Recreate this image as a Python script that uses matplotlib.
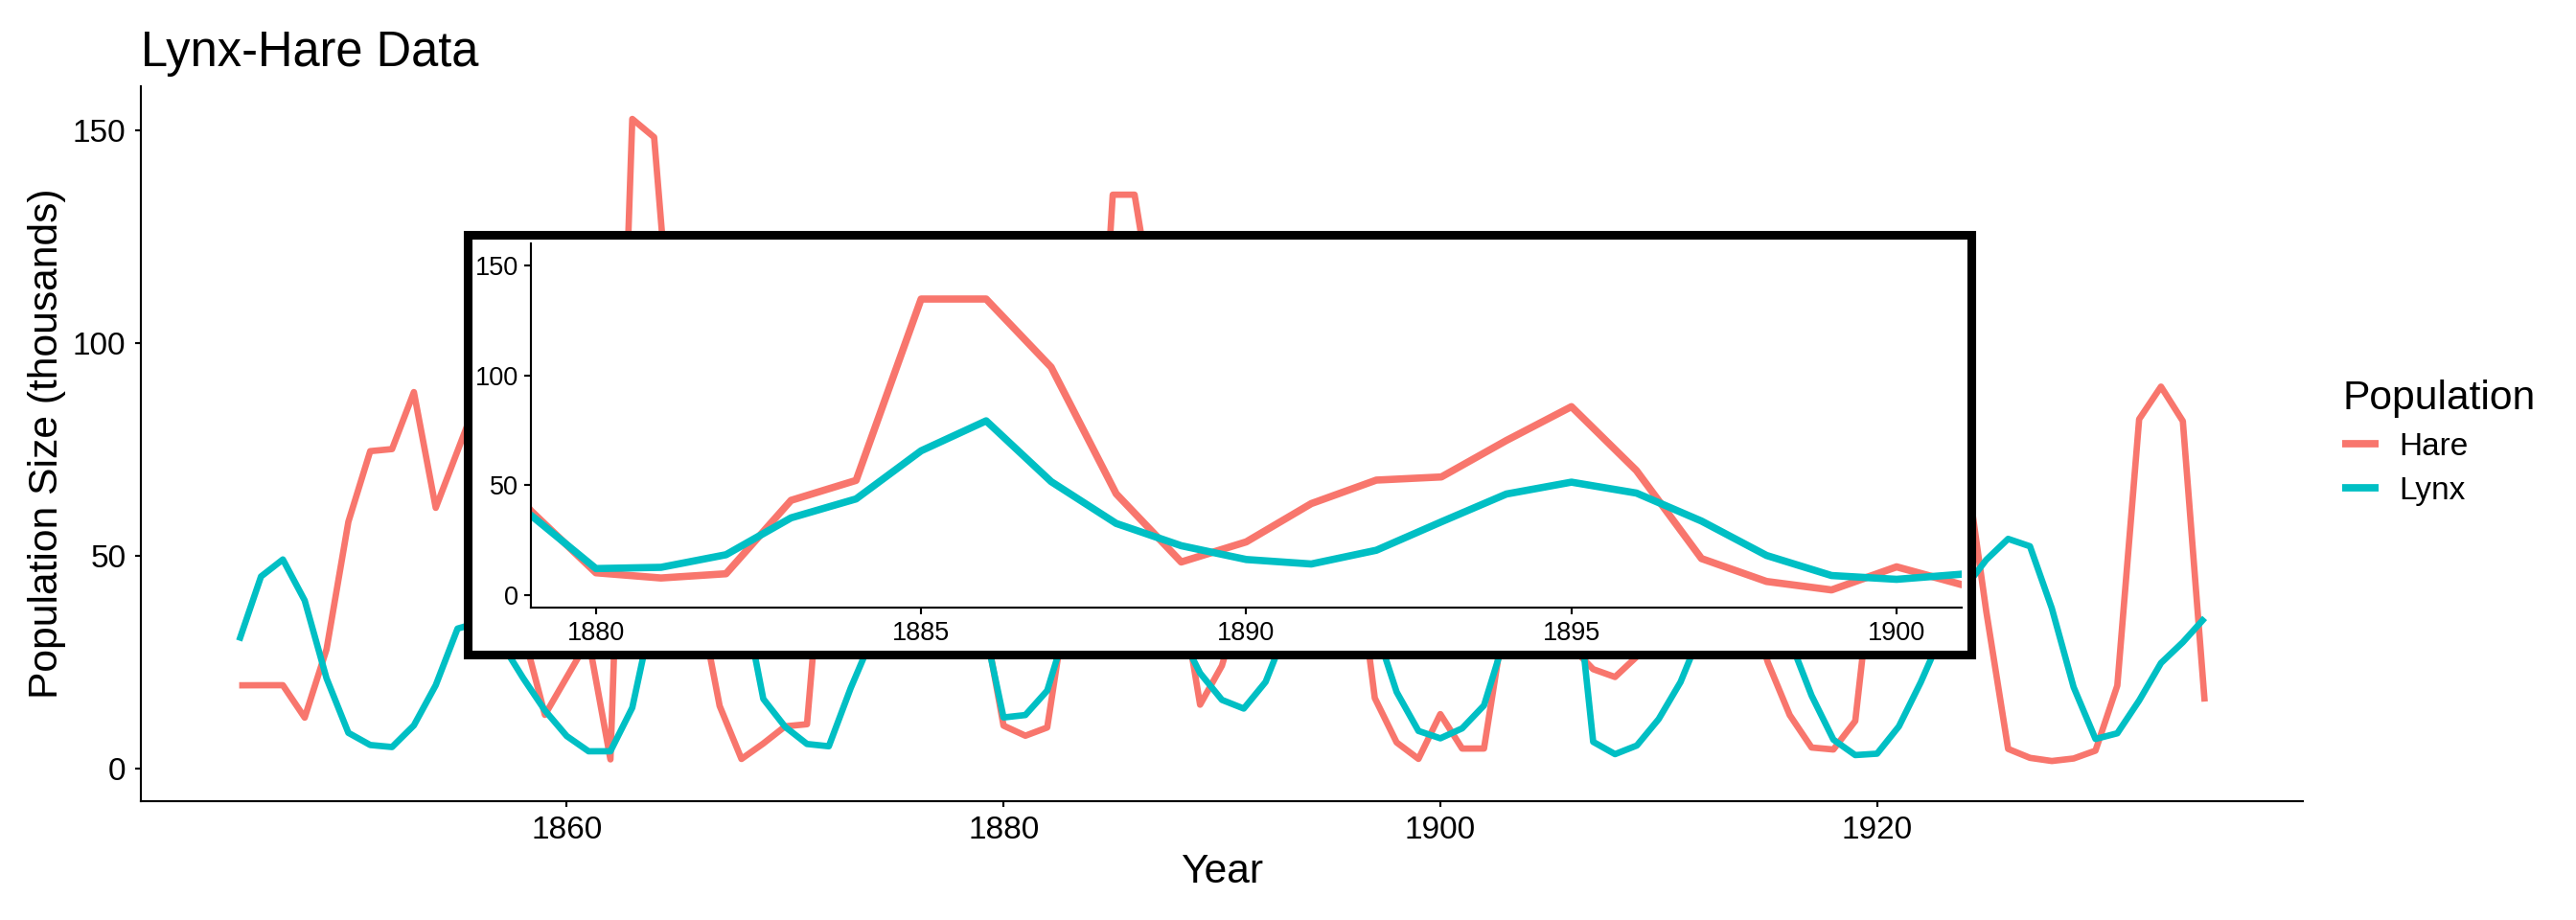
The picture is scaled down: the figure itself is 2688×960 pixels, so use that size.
import matplotlib
matplotlib.use("Agg")
import matplotlib.pyplot as plt
from matplotlib.patches import Rectangle

plt.rcParams['font.family'] = ['Liberation Sans', 'DejaVu Sans']

# Hudson Bay lynx-hare data (thousands)
years = list(range(1845, 1936))
hare = [19.58, 19.6, 19.61, 11.99, 28.04, 58.0, 74.6, 75.09, 88.48, 61.28,
        74.67, 88.06, 68.51, 32.19, 12.64, 21.49, 30.35, 2.18, 152.65, 148.36,
        85.81, 41.41, 14.75, 2.28, 5.91, 9.95, 10.44, 70.64, 50.12, 50.13,
        101.25, 97.12, 86.51, 72.17, 38.32, 10.11, 7.74, 9.67, 43.12, 52.21,
        134.85, 134.86, 103.79, 46.1, 15.03, 24.2, 41.65, 52.34, 53.78, 70.4,
        85.81, 56.69, 16.59, 6.16, 2.3, 12.82, 4.72, 4.73, 37.22, 69.72,
        57.78, 28.68, 23.37, 21.54, 26.34, 53.1, 68.48, 75.58, 57.92, 40.97,
        24.95, 12.59, 4.97, 4.5, 11.21, 56.6, 69.63, 77.74, 80.53, 73.38,
        36.93, 4.64, 2.54, 1.8, 2.39, 4.23, 19.52, 82.11, 89.76, 81.66,
        15.76]
lynx = [30.09, 45.15, 49.15, 39.52, 21.23, 8.42, 5.56, 5.08, 10.17, 19.6,
        32.91, 34.38, 29.59, 21.3, 13.69, 7.65, 4.08, 4.09, 14.33, 38.22,
        60.78, 70.77, 72.77, 42.68, 16.39, 9.83, 5.8, 5.26, 18.91, 30.95,
        31.18, 46.34, 45.77, 44.15, 36.33, 12.03, 12.6, 18.34, 35.14, 43.77,
        65.69, 79.35, 51.65, 32.59, 22.45, 16.16, 14.12, 20.38, 33.33, 46.0,
        51.41, 46.43, 33.68, 18.01, 8.86, 7.13, 9.47, 14.86, 31.47, 60.57,
        63.51, 54.7, 6.3, 3.41, 5.44, 11.65, 20.35, 32.88, 39.55, 43.36,
        40.83, 30.36, 17.18, 6.82, 3.19, 3.52, 9.94, 20.3, 31.99, 42.36,
        49.08, 53.99, 52.25, 37.7, 19.14, 6.98, 8.31, 16.01, 24.82, 29.7,
        35.4]
series_names = ['Hare', 'Lynx']
colors = ['#F8766D', '#00BFC4']


def style_axes(ax, tick_size, tick_len, ypad, xpad):
    for side in ['top', 'right']:
        ax.spines[side].set_visible(False)
    for side in ['left', 'bottom']:
        ax.spines[side].set_linewidth(0.8)
    ax.tick_params(labelsize=tick_size, length=tick_len, width=0.8,
                   colors='black')
    ax.tick_params(axis='y', pad=ypad)
    ax.tick_params(axis='x', pad=xpad)
    ax.set_yticks([0, 50, 100, 150])


fig = plt.figure(figsize=(14, 5), dpi=192)

# main plot
ax = fig.add_axes([0.0547, 0.1292, 0.8393, 0.7768])
for name, vals, c in zip(series_names, [hare, lynx], colors):
    ax.plot(years, vals, color=c, lw=2.5, label=name, solid_capstyle='butt')
ax.set_xlim(1840.5, 1939.5)
ax.set_ylim(-7.63, 160.28)
ax.set_xticks([1860, 1880, 1900, 1920])
style_axes(ax, 12.5, 2.25, 3.6, 3.2)
ax.set_xlabel('Year', fontsize=16, labelpad=3)
ax.set_ylabel('Population Size (thousands)', fontsize=16, labelpad=2.5)
ax.set_title('Lynx-Hare Data', fontsize=19, loc='left', pad=8)

leg = ax.legend(title='Population', loc='upper left',
                bbox_to_anchor=(1.0049, 0.63), frameon=False,
                fontsize=12.5, title_fontsize=16, handlelength=1.14,
                handletextpad=0.63, labelspacing=0.45)
leg._legend_box.align = 'left'
for line in leg.get_lines():
    line.set_linewidth(2.9)

# inset frame
frame = Rectangle((488 / 2688, 1 - 683 / 960), (2057 - 488) / 2688,
                  (683 - 244.5) / 960, transform=fig.transFigure,
                  facecolor='white', edgecolor='black', lw=3.4, zorder=5)
fig.patches.append(frame)

# inset zoom 1880-1900
axi = fig.add_axes([0.2061, 0.3396, 0.5554, 0.3958], zorder=10)
for name, vals, c in zip(series_names, [hare, lynx], colors):
    axi.plot(years, vals, color=c, lw=2.85, solid_capstyle='butt')
axi.set_xlim(1879, 1901)
axi.set_ylim(-5.74, 160.19)
axi.set_xticks([1880, 1885, 1890, 1895, 1900])
style_axes(axi, 10.2, 2.6, 2.4, 2.8)
axi.patch.set_alpha(0)

fig.savefig('out.png', dpi=192)
